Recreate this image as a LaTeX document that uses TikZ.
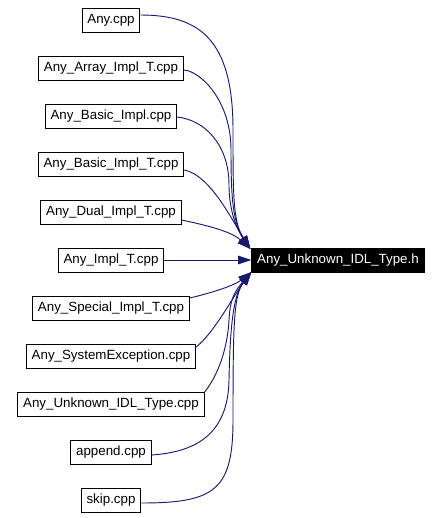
\documentclass[tikz,border=0pt]{standalone}
\usepackage{fontspec}
\setmainfont{Liberation Sans}
\usetikzlibrary{arrows.meta,calc}
\definecolor{edgeblue}{RGB}{25,25,112}
\begin{document}
\begin{tikzpicture}[x=0.75pt,y=-0.75pt,
  filebox/.style={draw=black,line width=0.75pt,fill=white,inner xsep=4pt,inner ysep=0pt,
    minimum height=18pt,font=\fontsize{10}{12}\selectfont},
  mainbox/.style={filebox,fill=black,text=white},
  dep/.style={draw=edgeblue,line width=0.7pt,-{Triangle[length=10pt,width=6.5pt]},
    arrows={-{Triangle[length=10pt,width=6.5pt,color=edgeblue,fill=edgeblue]}}}]
\useasboundingbox (0,0) rectangle (440,518);
\node[filebox] (a1) at (111,20) {Any.cpp};
\node[filebox] (a2) at (111,68) {Any\_Array\_Impl\_T.cpp};
\node[filebox] (a3) at (111,116) {Any\_Basic\_Impl.cpp};
\node[filebox] (a4) at (111,164) {Any\_Basic\_Impl\_T.cpp};
\node[filebox] (a5) at (111,212) {Any\_Dual\_Impl\_T.cpp};
\node[filebox] (a6) at (111,260) {Any\_Impl\_T.cpp};
\node[filebox] (a7) at (111,308) {Any\_Special\_Impl\_T.cpp};
\node[filebox] (a8) at (111,356) {Any\_SystemException.cpp};
\node[filebox] (a9) at (111,404) {Any\_Unknown\_IDL\_Type.cpp};
\node[filebox] (a10) at (111,452) {append.cpp};
\node[filebox] (a11) at (111,500) {skip.cpp};
\node[mainbox] (t) at (338,260) {Any\_Unknown\_IDL\_Type.h};
\coordinate (tu) at ($(t.west)+(-1,-11)$);
\coordinate (tl) at ($(t.west)+(0,12)$);
% upper edges
\draw[dep] ($(a1.east)+(0,-5)$) .. controls (200,15) and (233,40) .. (233,130)
  .. controls (233,195) and (233,222) .. (tu);
\draw[dep] ($(a2.east)+(0,2)$) .. controls (200,71) and (231,100) .. (231,150)
  .. controls (231,200) and (233,222) .. (tu);
\draw[dep] ($(a3.east)+(0,1)$) .. controls (205,120) and (229,145) .. (229,185)
  .. controls (229,205) and (234,225) .. (tu);
\draw[dep] ($(a4.east)+(0,6)$) .. controls (210,175) and (232,220) .. (tu);
\draw[dep] ($(a5.east)+(0,8)$) .. controls (210,226) and (232,232) .. (tu);
% middle
\draw[dep] (a6.east) -- (t.west);
% lower edges
\draw[dep] ($(a7.east)+(0,-10)$) .. controls (215,292) and (235,285) .. (tl);
\draw[dep] ($(a8.east)+(0,-9)$) .. controls (214,333) and (232,298) .. (tl);
\draw[dep] ($(a9.east)+(0,-12)$) .. controls (222,370) and (228,340) .. (229,320)
  .. controls (230,300) and (234,292) .. (tl);
\draw[dep] ($(a10.east)+(0,3)$) .. controls (195,452) and (228,435) .. (229,380)
  .. controls (230,330) and (233,295) .. (tl);
\draw[dep] ($(a11.east)+(0,3)$) .. controls (215,503) and (233,490) .. (233,420)
  .. controls (233,320) and (234,295) .. (tl);
\end{tikzpicture}
\end{document}
